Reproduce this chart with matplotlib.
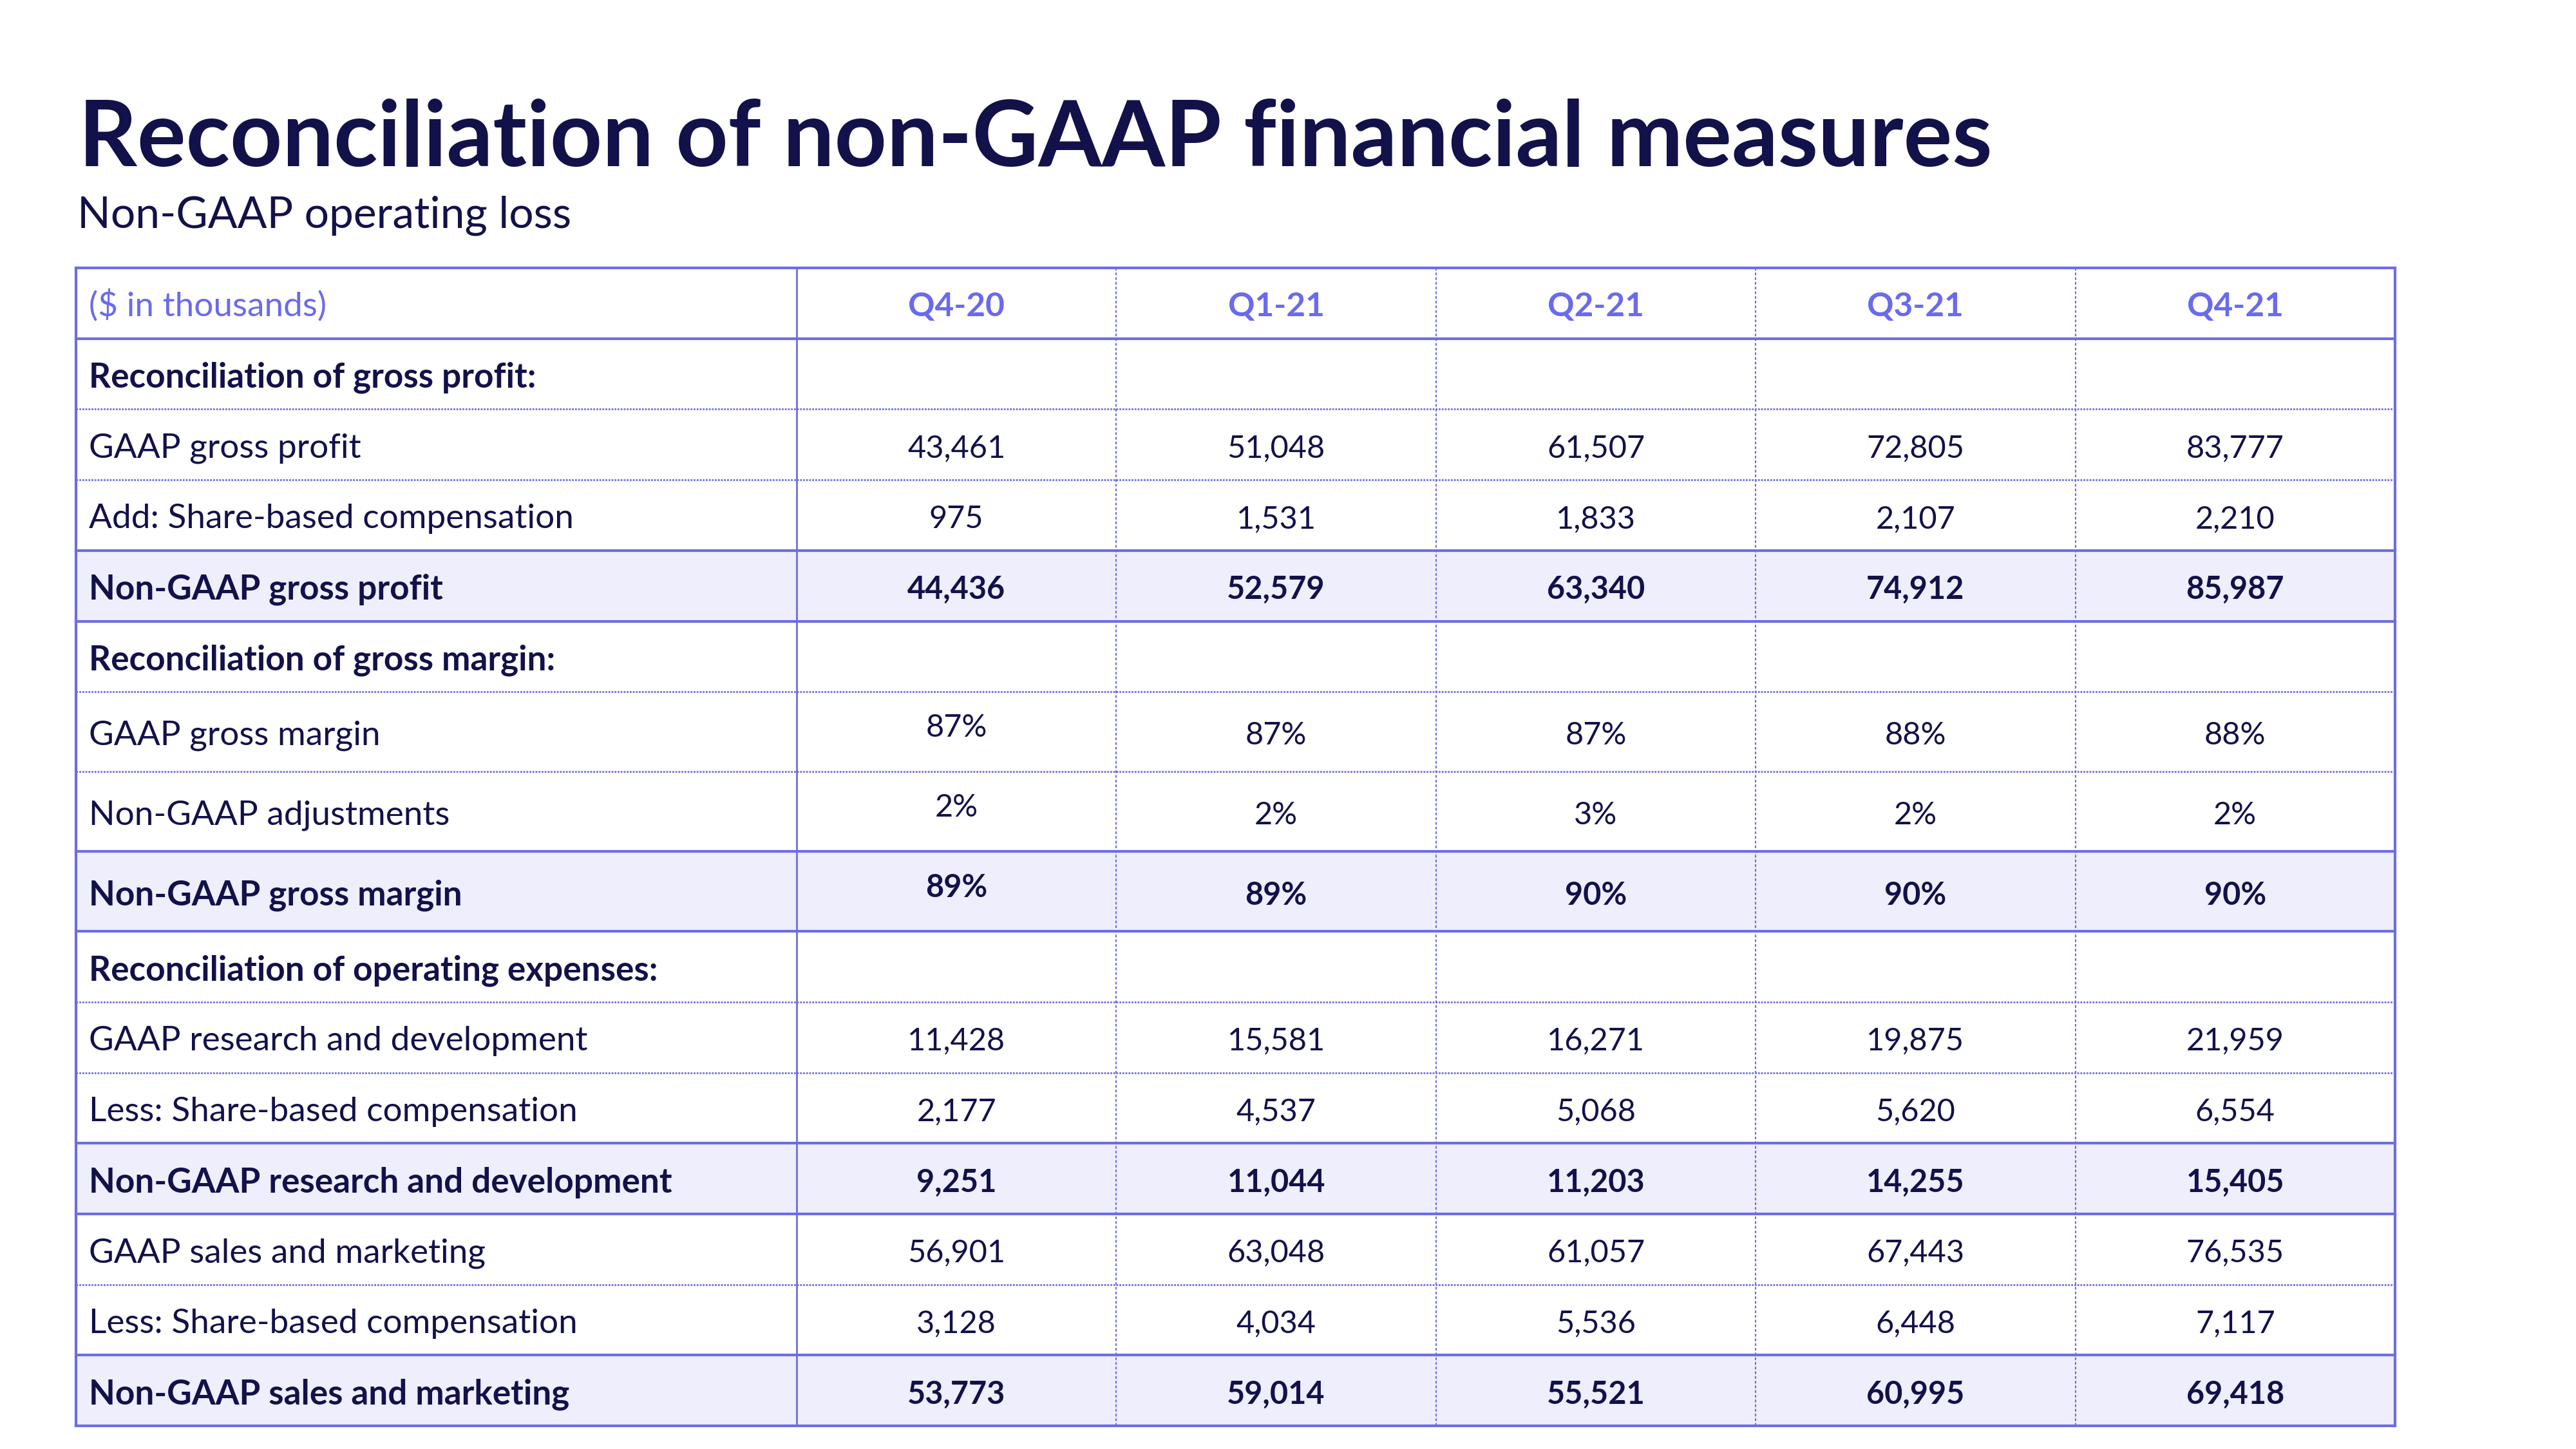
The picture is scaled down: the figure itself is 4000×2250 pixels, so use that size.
import matplotlib
matplotlib.use("Agg")
import matplotlib.pyplot as plt

# 数据
quarters = ["Q4-20", "Q1-21", "Q2-21", "Q3-21", "Q4-21"]
row_labels = [
    "Reconciliation of gross profit:",
    "GAAP gross profit",
    "Add: Share-based compensation",
    "Non-GAAP gross profit",
    "Reconciliation of gross margin:",
    "GAAP gross margin",
    "Non-GAAP adjustments",
    "Non-GAAP gross margin",
    "Reconciliation of operating expenses:",
    "GAAP research and development",
    "Less: Share-based compensation",
    "Non-GAAP research and development",
    "GAAP sales and marketing",
    "Less: Share-based compensation",
    "Non-GAAP sales and marketing",
]
# section / item / total / pct / pcttotal
row_kinds = ["section", "item", "item", "total",
             "section", "pct", "pct", "pcttotal",
             "section", "item", "item", "total",
             "item", "item", "total"]
gaap_gross_profit = [43461, 51048, 61507, 72805, 83777]
sbc_cost_of_revenue = [975, 1531, 1833, 2107, 2210]
non_gaap_gross_profit = [44436, 52579, 63340, 74912, 85987]
gaap_gross_margin = [87, 87, 87, 88, 88]
non_gaap_adjustments = [2, 2, 3, 2, 2]
non_gaap_gross_margin = [89, 89, 90, 90, 90]
gaap_rd = [11428, 15581, 16271, 19875, 21959]
sbc_rd = [2177, 4537, 5068, 5620, 6554]
non_gaap_rd = [9251, 11044, 11203, 14255, 15405]
gaap_sm = [56901, 63048, 61057, 67443, 76535]
sbc_sm = [3128, 4034, 5536, 6448, 7117]
non_gaap_sm = [53773, 59014, 55521, 60995, 69418]

row_values = [None, gaap_gross_profit, sbc_cost_of_revenue, non_gaap_gross_profit,
              None, gaap_gross_margin, non_gaap_adjustments, non_gaap_gross_margin,
              None, gaap_rd, sbc_rd, non_gaap_rd,
              gaap_sm, sbc_sm, non_gaap_sm]

# 样式
NAVY = "#12114a"
LINE = "#6d6de2"
HEAD = "#6a6aee"
FILL = "#eeeefc"
FONT = "Lato"

W, H = 4000, 2250
X_LEFT, X_LABEL_END, X_RIGHT = 118, 1237, 3719
TOP = 416
ROW_H = 109.7
PCT_H = 124.0

fig = plt.figure(figsize=(16, 9), dpi=250)
ax = fig.add_axes([0, 0, 1, 1])
ax.set_xlim(0, W)
ax.set_ylim(H, 0)
ax.axis("off")

# 标题
ax.text(122, 258, "Reconciliation of non-GAAP financial measures", fontsize=40.8,
        fontweight="bold", color=NAVY, family=FONT, va="baseline", ha="left")
ax.text(120, 354, "Non-GAAP operating loss", fontsize=19.5, color=NAVY,
        family=FONT, va="baseline", ha="left")

# 行边界
heights = [ROW_H] + [PCT_H if k.startswith("pct") else ROW_H for k in row_kinds]
bounds = [TOP]
for h in heights:
    bounds.append(bounds[-1] + h)
kinds = ["header"] + row_kinds
col_w = (X_RIGHT - X_LABEL_END) / len(quarters)
col_x = [X_LABEL_END + col_w * (i + 0.5) for i in range(len(quarters))]

# 底色
for i, k in enumerate(kinds):
    if k in ("total", "pcttotal"):
        ax.fill_between([X_LEFT, X_RIGHT], bounds[i], bounds[i + 1],
                        color=FILL, lw=0, zorder=1)

# 横线
for i, y in enumerate(bounds):
    above = kinds[i - 1] if i > 0 else "outer"
    below = kinds[i] if i < len(kinds) else "outer"
    strong = {"outer", "header", "total", "pcttotal"}
    if above in strong or below in strong:
        ax.plot([X_LEFT, X_RIGHT], [y, y], color=LINE, lw=1.2, zorder=3,
                solid_capstyle="projecting")
    else:
        ax.plot([X_LEFT, X_RIGHT], [y, y], color=LINE, lw=0.8,
                linestyle=(0, (1, 0.7)), zorder=2)

# 竖线
ax.plot([X_LEFT, X_LEFT], [TOP, bounds[-1]], color=LINE, lw=1.2, zorder=3)
ax.plot([X_RIGHT, X_RIGHT], [TOP, bounds[-1]], color=LINE, lw=1.2, zorder=3)
ax.plot([X_LABEL_END, X_LABEL_END], [TOP, bounds[-1]], color=LINE, lw=0.8, zorder=3)
for i in range(1, len(quarters)):
    x = X_LABEL_END + col_w * i
    ax.plot([x, x], [TOP, bounds[-1]], color=LINE, lw=0.6,
            linestyle=(0, (2, 1.5)), zorder=2)

# 表头
yc = (bounds[0] + bounds[1]) / 2
ax.text(138, yc + 4, "($ in thousands)", fontsize=15.3, color=HEAD, family=FONT,
        va="center", ha="left")
for x, q in zip(col_x, quarters):
    ax.text(x, yc + 6, q, fontsize=14.8, color=HEAD, family=FONT,
            fontweight="bold", va="center", ha="center")

# 表体
for i, (label, kind, vals) in enumerate(zip(row_labels, row_kinds, row_values)):
    yc = (bounds[i + 1] + bounds[i + 2]) / 2
    bold = kind in ("section", "total", "pcttotal")
    ax.text(138, yc + 6, label, fontsize=15.3, color=NAVY, family=FONT,
            fontweight="bold" if bold else "normal", va="center", ha="left")
    if vals is None:
        continue
    for j, (x, v) in enumerate(zip(col_x, vals)):
        if kind.startswith("pct"):
            s = "%d%%" % v
            dy = -6 if j == 0 else 6
        else:
            s = "{:,}".format(v)
            dy = 6
        ax.text(x, yc + dy, s, fontsize=14, color=NAVY, family=FONT,
                fontweight="bold" if bold else "normal", va="center", ha="center")

fig.savefig("out.png", dpi=250, facecolor="white")
